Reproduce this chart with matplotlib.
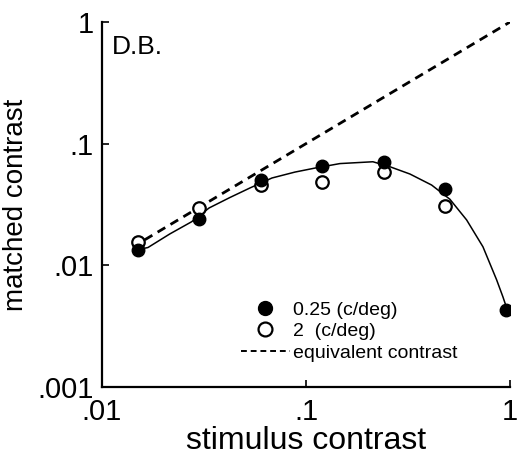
import matplotlib
matplotlib.use("Agg")
import matplotlib.pyplot as plt
from matplotlib.lines import Line2D

plt.rcParams['font.family'] = ['Liberation Sans', 'DejaVu Sans']

# stimulus contrasts
stim = [0.015, 0.03, 0.06, 0.12, 0.24, 0.48, 0.96]
# matched contrast, 0.25 c/deg (filled)
low_sf = [0.0134, 0.0239, 0.0502, 0.0654, 0.0710, 0.0421, 0.0043]
# matched contrast, 2 c/deg (open), no point at highest contrast
high_sf_x = [0.015, 0.03, 0.06, 0.12, 0.24, 0.48]
high_sf = [0.0156, 0.0294, 0.0457, 0.0486, 0.0588, 0.0309]
# fitted curve
fit_x = [0.0148, 0.0168, 0.0215, 0.0275, 0.0335, 0.0424, 0.0531, 0.0681, 0.0883,
         0.1107, 0.1468, 0.2130, 0.2581, 0.3234, 0.4131, 0.5080, 0.6134, 0.7375,
         0.8605, 0.9241, 0.9667]
fit_y = [0.0134, 0.0140, 0.0181, 0.0228, 0.0296, 0.0361, 0.0432, 0.0522, 0.0584,
         0.0630, 0.0686, 0.0710, 0.0646, 0.0563, 0.0457, 0.0349, 0.0236, 0.0142,
         0.0076, 0.0055, 0.0044]
# equivalent contrast line (identity)
eq_x = [0.0162, 1.0]
eq_y = [0.0162, 1.0]

xticks = [0.01, 0.1, 1]
xticklabels = ['.01', '.1', '1']
yticks = [0.001, 0.01, 0.1, 1]
yticklabels = ['.001', '.01', '.1', '1']
legend_labels = ['0.25 (c/deg)', '2  (c/deg)', 'equivalent contrast']

fig = plt.figure(figsize=(5.19, 4.59), dpi=100)
ax = fig.add_axes([0.1965, 0.157, 0.786, 0.795])
ax.set_xscale('log')
ax.set_yscale('log')
ax.set_xlim(0.01, 1)
ax.set_ylim(0.001, 1)

ax.plot(eq_x, eq_y, color='black', lw=2.0, ls=(0, (3.2, 2.2)), zorder=2)
ax.plot(fit_x, fit_y, color='black', lw=1.1, zorder=2)
ax.plot(high_sf_x, high_sf, 'o', ms=9, mfc='white', mec='black', mew=1.6, ls='none', zorder=3)
ax.plot(stim, low_sf, 'o', ms=9, mfc='black', mec='black', ls='none', zorder=4)

ax.set_xticks(xticks)
ax.set_xticklabels(xticklabels)
ax.set_yticks(yticks)
ax.set_yticklabels(yticklabels)
ax.minorticks_off()
ax.tick_params(direction='in', length=5, width=1.2, labelsize=21)
ax.tick_params(axis='x', pad=8)
ax.tick_params(axis='y', pad=6)
for s in ['top', 'right']:
    ax.spines[s].set_visible(False)
for s in ['left', 'bottom']:
    ax.spines[s].set_linewidth(1.6)

ax.set_xlabel('stimulus contrast', fontsize=23, labelpad=0)
ax.set_ylabel('matched contrast', fontsize=20, labelpad=6)

ax.text(0.024, 0.965, 'D.B.', transform=ax.transAxes, fontsize=19, va='top', ha='left')

handles = [
    Line2D([], [], marker='o', ms=10, mfc='black', mec='black', ls='none'),
    Line2D([], [], marker='o', ms=10, mfc='white', mec='black', mew=1.6, ls='none'),
    Line2D([], [], color='black', lw=1.4, ls=(0, (3, 2))),
]
ax.legend(handles, legend_labels, frameon=False, fontsize=14,
          loc='upper left', bbox_to_anchor=(0.341, 0.235), handlelength=2.5,
          handletextpad=0.15, labelspacing=0.2, borderpad=0, borderaxespad=0)

fig.savefig('out.png', dpi=100)
